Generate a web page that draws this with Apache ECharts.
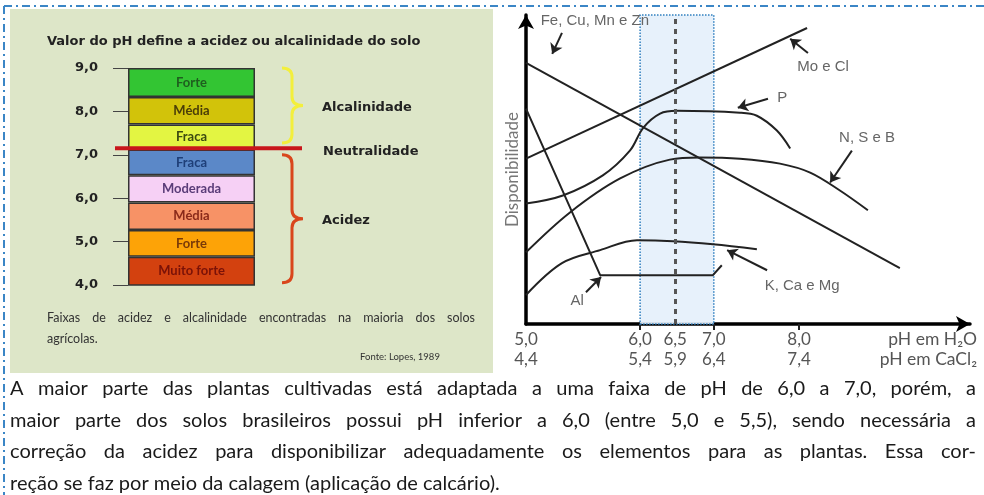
<!DOCTYPE html>
<html>
<head>
<meta charset="utf-8">
<script src="https://cdn.jsdelivr.net/npm/echarts@6/dist/echarts.min.js"></script>
<style>
  html, body { margin: 0; padding: 0; background: #fff; }
  #chart { width: 984px; height: 495px; }
</style>
</head>
<body>
<div id="chart"></div>
<script>
/* ========================
    Data - left panel (pH classes)
========================= */
const phTicks = [4, 5, 6, 7, 8, 9];
const classNames = ['Muito forte', 'Forte', 'Média', 'Moderada', 'Fraca', 'Fraca', 'Média', 'Forte'];
const classTop = [4.65, 5.27, 5.9, 6.53, 7.12, 7.7, 8.33, 9.0];
const neutralPh = 7.15;
const groupNames = ['Alcalinidade', 'Acidez'];
const groupFrom = [7.27, 4.05];
const groupTo = [9.0, 7.0];

/* ========================
    Data - right panel (availability vs pH)
========================= */
const phPos = [0, 25.7, 33.6, 42.3, 61.5];
const phH2O = ['5,0', '6,0', '6,5', '7,0', '8,0'];
const phCaCl2 = ['4,4', '5,4', '5,9', '6,4', '7,4'];
const tickPos = [25.7, 42.3, 61.5];
const optimumBand = [25.7, 42.3];
const optimumCenter = 33.6;

const feCuMnZn = [[0, 84.5], [84.2, 18.1]];
const moCl = [[0, 53.5], [63.3, 95.8]];
const aluminium = [[0, 69.7], [16.7, 15.8], [42.1, 15.8], [44.1, 19.0]];
const phosphorus = [[0, 39.0], [8.3, 41.6], [17.3, 48.1], [23.4, 56.1], [26.4, 63.5], [30.2, 68.1],
  [34.0, 69.0], [48.2, 68.4], [52.0, 67.4], [56.5, 62.6], [59.5, 56.8]];
const nsb = [[0, 23.2], [9.9, 36.1], [21.2, 47.1], [32.4, 53.2], [39.2, 53.9], [48.2, 53.5],
  [57.2, 51.9], [64.0, 49.0], [70.7, 43.2], [77.0, 36.8]];
const kCaMg = [[0, 9.4], [8.1, 19.7], [16.7, 23.9], [25.0, 27.1], [33.1, 26.8], [42.1, 25.8], [52.0, 24.2]];

const noteText = ['Fe, Cu, Mn e Zn', 'Mo e Cl', 'P', 'N, S e B', 'K, Ca e Mg', 'Al'];
const notePos = [[15.5, 98.1], [66.9, 83.2], [57.7, 73.2], [76.8, 60.3], [62.2, 12.3], [11.5, 7.4]];
const noteArrowFrom = [[8.1, 94.2], [63.5, 87.7], [54.5, 72.9], [73.4, 56.1], [54.3, 17.4], [13.5, 10.3]];
const noteArrowTo = [[5.9, 87.4], [59.5, 92.3], [47.7, 70.0], [68.5, 45.8], [45.3, 23.9], [16.9, 15.2]];

const footnote = ['Faixas de acidez e alcalinidade encontradas na maioria dos solos', 'agrícolas.'];
const paragraph = [
  'A maior parte das plantas cultivadas está adaptada a uma faixa de pH de 6,0 a 7,0, porém, a',
  'maior parte dos solos brasileiros possui pH inferior a 6,0 (entre 5,0 e 5,5), sendo necessária a',
  'correção da acidez para disponibilizar adequadamente os elementos para as plantas. Essa cor-',
  'reção se faz por meio da calagem (aplicação de calcário).'
];
const paragraphJustified = [true, true, true, false];

/* ========================
    Styles
========================= */
const classColors = ['#d3410f', '#fda307', '#f79266', '#f6d0f5', '#5b88c8', '#e3f542', '#d2c30a', '#33c533'];
const classTextColors = ['#7a1208', '#7a3a08', '#8a2a1a', '#5a3c78', '#1f3f78', '#3c4a10', '#4a3e08', '#1f5f1f'];
const groupColors = ['#f3ef3c', '#d9461c'];
const borderBlue = '#3b86c6';
const headFont = 'bold 13px "DejaVu Sans"';

/* ========================
    Text helpers
========================= */
const measureCtx = document.createElement('canvas').getContext('2d');
function textWidth(text, font) {
  measureCtx.font = font;
  return measureCtx.measureText(text).width;
}

function plainText(text, x, y, font, fill, align) {
  return { type: 'text', x: x, y: y, silent: true, style: {
    text: text, font: font, fill: fill, textAlign: align || 'left', align: align || 'left',
    textVerticalAlign: 'middle', verticalAlign: 'middle' } };
}

// spread words over a given width (justified line)
function justified(text, x, y, width, font, fill) {
  const words = text.split(' ');
  const used = words.reduce((s, w) => s + textWidth(w, font), 0);
  const gap = (width - used) / (words.length - 1);
  let cx = x;
  return words.map(w => {
    const el = plainText(w, cx, y, font, fill);
    cx += textWidth(w, font) + gap;
    return el;
  });
}

/* ========================
    Series
========================= */
const classSeries = classNames.map((name, i) => ({
  name: name,
  type: 'bar',
  stack: 'ph',
  xAxisIndex: 0,
  yAxisIndex: 0,
  barWidth: '100%',
  data: [i === 0 ? classTop[0] : +(classTop[i] - classTop[i - 1]).toFixed(3)],
  itemStyle: { color: classColors[i], borderColor: '#333', borderWidth: 1.5 },
  label: {
    show: true, position: 'inside', formatter: name,
    color: classTextColors[i], fontSize: 13, fontWeight: 'bold', fontFamily: 'Lato'
  },
  z: 2
}));

const neutralSeries = {
  type: 'custom',
  xAxisIndex: 0,
  yAxisIndex: 0,
  clip: false,
  z: 5,
  data: [[0, neutralPh]],
  renderItem: (params, api) => {
    const y = api.coord([0, api.value(1)])[1];
    return {
      type: 'group',
      children: [
        { type: 'line', shape: { x1: 115, y1: y, x2: 302, y2: y }, style: { stroke: '#c8161b', lineWidth: 4 } },
        plainText('Neutralidade', 323, y + 3, headFont, '#222')
      ]
    };
  }
};

const braceSeries = {
  type: 'custom',
  xAxisIndex: 0,
  yAxisIndex: 0,
  clip: false,
  z: 5,
  data: groupNames.map((n, i) => [0, groupFrom[i], groupTo[i]]),
  renderItem: (params, api) => {
    const yTop = api.coord([0, api.value(2)])[1];
    const yBot = api.coord([0, api.value(1)])[1];
    const ym = (yTop + yBot) / 2, x0 = 282, xm = 292, x1 = 303, r = 9;
    const d = `M${x0},${yTop} Q${xm},${yTop} ${xm},${yTop + r} L${xm},${ym - r} Q${xm},${ym} ${x1},${ym} ` +
      `Q${xm},${ym} ${xm},${ym + r} L${xm},${yBot - r} Q${xm},${yBot} ${x0},${yBot}`;
    return {
      type: 'group',
      children: [
        { type: 'path', shape: { pathData: d }, style: { stroke: groupColors[params.dataIndex], fill: 'none', lineWidth: 3 } },
        plainText(groupNames[params.dataIndex], 322, ym + 2, headFont, '#222')
      ]
    };
  }
};

function curve(name, data, smooth) {
  return {
    name: name, type: 'line', xAxisIndex: 1, yAxisIndex: 1,
    data: data, smooth: smooth ? 0.35 : false, symbol: 'none',
    lineStyle: { color: '#222', width: 2 }, z: 4
  };
}

const bandSeries = {
  type: 'line', xAxisIndex: 1, yAxisIndex: 1, data: [[optimumCenter, 0]], symbol: 'none', z: 1,
  markArea: {
    silent: true,
    itemStyle: { color: 'rgba(228,239,251,0.9)', borderColor: '#2f7fbf', borderWidth: 1.5, borderType: 'dotted' },
    data: [[{ xAxis: optimumBand[0], yAxis: 0 }, { xAxis: optimumBand[1], yAxis: 100 }]]
  },
  markLine: {
    silent: true, symbol: 'none', label: { show: false },
    lineStyle: { color: '#555', width: 3, type: [5, 5] },
    data: [{ xAxis: optimumCenter }]
  }
};

const noteSeries = {
  type: 'custom', xAxisIndex: 1, yAxisIndex: 1, clip: false, z: 6,
  data: notePos.map((p, i) => [p[0], p[1], i]),
  renderItem: (params, api) => {
    const pt = api.coord([api.value(0), api.value(1)]);
    return plainText(noteText[params.dataIndex], pt[0], pt[1], '15px "Liberation Sans"', '#666', 'center');
  },
  markLine: {
    silent: true, symbol: ['none', 'arrow'], symbolSize: 10,
    label: { show: false },
    lineStyle: { color: '#222', width: 2, type: 'solid' },
    data: noteArrowFrom.map((f, i) => [{ coord: f }, { coord: noteArrowTo[i] }])
  }
};

/* ========================
    Decorations and text
========================= */
// paragraph: last (unjustified) line sets the font size, other lines are justified
const paraWidth = 966;
const lastLineWidth = 490;
const paraSize = 20 * lastLineWidth / textWidth(paragraph[3], '20px Lato');
const paraFont = paraSize.toFixed(2) + 'px Lato';
const footFont = '12.5px Lato';

let graphics = [
  { type: 'rect', z: -100, silent: true, shape: { x: 10, y: 9, width: 483, height: 364 }, style: { fill: '#dde6c8' } },
  { type: 'line', silent: true, shape: { x1: 4, y1: 6, x2: 984, y2: 6 },
    style: { stroke: borderBlue, lineWidth: 2, lineDash: [8, 4, 2, 4] } },
  { type: 'line', silent: true, shape: { x1: 4, y1: 6, x2: 4, y2: 495 },
    style: { stroke: borderBlue, lineWidth: 2, lineDash: [8, 4, 2, 4] } },
  plainText('Valor do pH define a acidez ou alcalinidade do solo', 47, 42, headFont, '#222'),
  plainText(footnote[1], 47, 339, footFont, '#333'),
  plainText('Fonte: Lopes, 1989', 400, 357, '9.5px Lato', '#333', 'center'),
  plainText('pH em H₂O', 977, 339, '17.5px Lato', '#555', 'right'),
  plainText('pH em CaCl₂', 977, 359, '17.5px Lato', '#555', 'right')
];
graphics = graphics.concat(justified(footnote[0], 47, 318, 428, footFont, '#333'));
paragraph.forEach((line, i) => {
  const y = 389 + i * 31.5;
  graphics = graphics.concat(paragraphJustified[i]
    ? justified(line, 10, y, paraWidth, paraFont, '#1a1a1a')
    : [plainText(line, 10, y, paraFont, '#1a1a1a')]);
});

/* ========================
    Chart
========================= */
const chart = echarts.init(document.getElementById('chart'));
chart.setOption({
  animation: false,
  graphic: graphics,
  grid: [
    { left: 128, top: 68, width: 127, height: 217 },
    { left: 526, top: 15, right: 14, bottom: 171 }
  ],
  xAxis: [
    { gridIndex: 0, type: 'category', data: ['pH'], show: false },
    {
      gridIndex: 1, type: 'value', min: 0, max: 100,
      axisLine: { lineStyle: { color: '#000', width: 3.5 }, symbol: ['none', 'arrow'], symbolSize: [12, 14] },
      axisTick: { show: true, customValues: tickPos, length: 6, lineStyle: { color: '#222', width: 2 } },
      axisLabel: {
        customValues: phPos, margin: 6, fontSize: 17, lineHeight: 20, color: '#555', fontFamily: 'Lato',
        formatter: v => { const i = phPos.indexOf(v); return phH2O[i] + '\n' + phCaCl2[i]; }
      },
      splitLine: { show: false }
    }
  ],
  yAxis: [
    {
      gridIndex: 0, type: 'value', min: 4, max: 9, interval: 1,
      axisLine: { show: false },
      axisTick: { show: true, length: 15, lineStyle: { color: '#444', width: 1 } },
      axisLabel: {
        margin: 30, fontSize: 13, fontWeight: 'bold', color: '#222', fontFamily: 'DejaVu Sans',
        formatter: v => v.toFixed(1).replace('.', ',')
      },
      splitLine: { show: false }
    },
    {
      gridIndex: 1, type: 'value', min: 0, max: 100,
      name: 'Disponibilidade', nameLocation: 'middle', nameGap: 5, nameRotate: 90,
      nameTextStyle: { color: '#777', fontSize: 17, fontFamily: 'Lato' },
      axisLine: { show: true, lineStyle: { color: '#000', width: 3.5 }, symbol: ['none', 'arrow'], symbolSize: [12, 14] },
      axisTick: { show: false },
      axisLabel: { show: false },
      splitLine: { show: false }
    }
  ],
  series: [
    ...classSeries,
    neutralSeries,
    braceSeries,
    bandSeries,
    curve('Fe, Cu, Mn e Zn', feCuMnZn, false),
    curve('Mo e Cl', moCl, false),
    curve('Al', aluminium, false),
    curve('P', phosphorus, true),
    curve('N, S e B', nsb, true),
    curve('K, Ca e Mg', kCaMg, true),
    noteSeries
  ]
});
</script>
</body>
</html>
